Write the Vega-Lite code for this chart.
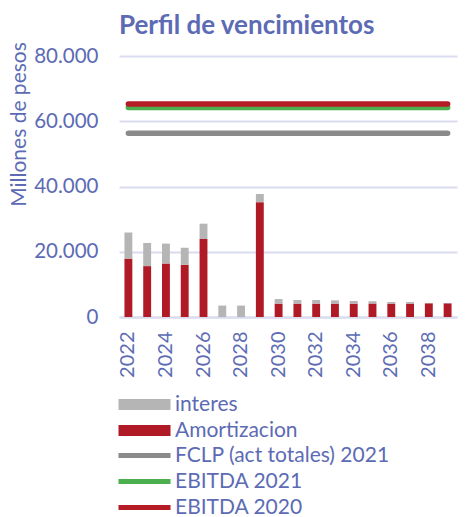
{
  "$schema": "https://vega.github.io/schema/vega-lite/v6.json",
  "autosize": "none",
  "padding": {"left": 119, "top": 56, "right": 18, "bottom": 200},
  "width": 338,
  "height": 261,
  "background": "white",
  "config": {
    "view": {"stroke": null},
    "font": "Lato",
    "axis": {"labelColor": "#5C6BB4", "titleColor": "#5C6BB4", "labelFont": "Lato", "titleFont": "Lato"},
    "legend": {"labelColor": "#5C6BB4", "labelFont": "Lato"}
  },
  "title": {
    "text": "Perfil de vencimientos",
    "anchor": "start",
    "frame": "group",
    "fontSize": 26,
    "fontWeight": "bold",
    "color": "#5C6BB4",
    "font": "Lato",
    "offset": 3
  },
  "datasets": {
    "bars": [
      {"year": 2022, "serie": "Amortizacion", "value": 17900}, {"year": 2022, "serie": "interes", "value": 8000},
      {"year": 2023, "serie": "Amortizacion", "value": 15600}, {"year": 2023, "serie": "interes", "value": 7100},
      {"year": 2024, "serie": "Amortizacion", "value": 16400}, {"year": 2024, "serie": "interes", "value": 6100},
      {"year": 2025, "serie": "Amortizacion", "value": 16000}, {"year": 2025, "serie": "interes", "value": 5200},
      {"year": 2026, "serie": "Amortizacion", "value": 23900}, {"year": 2026, "serie": "interes", "value": 4700},
      {"year": 2027, "serie": "Amortizacion", "value": 0}, {"year": 2027, "serie": "interes", "value": 3500},
      {"year": 2028, "serie": "Amortizacion", "value": 0}, {"year": 2028, "serie": "interes", "value": 3500},
      {"year": 2029, "serie": "Amortizacion", "value": 35200}, {"year": 2029, "serie": "interes", "value": 2500},
      {"year": 2030, "serie": "Amortizacion", "value": 4100}, {"year": 2030, "serie": "interes", "value": 1400},
      {"year": 2031, "serie": "Amortizacion", "value": 4100}, {"year": 2031, "serie": "interes", "value": 1100},
      {"year": 2032, "serie": "Amortizacion", "value": 4100}, {"year": 2032, "serie": "interes", "value": 1100},
      {"year": 2033, "serie": "Amortizacion", "value": 4100}, {"year": 2033, "serie": "interes", "value": 1000},
      {"year": 2034, "serie": "Amortizacion", "value": 4100}, {"year": 2034, "serie": "interes", "value": 800},
      {"year": 2035, "serie": "Amortizacion", "value": 4100}, {"year": 2035, "serie": "interes", "value": 700},
      {"year": 2036, "serie": "Amortizacion", "value": 4100}, {"year": 2036, "serie": "interes", "value": 500},
      {"year": 2037, "serie": "Amortizacion", "value": 4100}, {"year": 2037, "serie": "interes", "value": 500},
      {"year": 2038, "serie": "Amortizacion", "value": 4200}, {"year": 2038, "serie": "interes", "value": 100},
      {"year": 2039, "serie": "Amortizacion", "value": 4200}, {"year": 2039, "serie": "interes", "value": 100}
    ],
    "lines": [
      {"year": 2022, "serie": "FCLP (act totales) 2021", "value": 56300}, {"year": 2039, "serie": "FCLP (act totales) 2021", "value": 56300},
      {"year": 2022, "serie": "EBITDA 2021", "value": 64200}, {"year": 2039, "serie": "EBITDA 2021", "value": 64200},
      {"year": 2022, "serie": "EBITDA 2020", "value": 65300}, {"year": 2039, "serie": "EBITDA 2020", "value": 65300}
    ]
  },
  "encoding": {
    "x": {
      "field": "year",
      "type": "ordinal",
      "scale": {
        "domain": [2022, 2023, 2024, 2025, 2026, 2027, 2028, 2029, 2030, 2031, 2032, 2033, 2034, 2035, 2036, 2037, 2038, 2039],
        "paddingInner": 0.58,
        "paddingOuter": 0.29
      },
      "axis": {
        "title": null,
        "values": [2022, 2024, 2026, 2028, 2030, 2032, 2034, 2036, 2038],
        "labelAngle": -90,
        "labelFontSize": 20,
        "labelPadding": 14,
        "ticks": false,
        "tickSize": 0,
        "domainColor": "#D9DCEE",
        "domainWidth": 2,
        "grid": false
      }
    },
    "y": {
      "field": "value",
      "type": "quantitative",
      "scale": {"domain": [0, 80000], "nice": false},
      "axis": {
        "title": "Millones de pesos",
        "titleFontSize": 21,
        "titleFontWeight": "normal",
        "titleY": 68,
        "titlePadding": 4,
        "values": [0, 20000, 40000, 60000, 80000],
        "labelExpr": "replace(format(datum.value, ',d'), ',', '.')",
        "labelFontSize": 20.5,
        "labelPadding": 21,
        "ticks": false,
        "tickSize": 0,
        "domain": false,
        "grid": true,
        "gridColor": "#D9DCEE",
        "gridWidth": 2
      }
    }
  },
  "layer": [
    {
      "data": {"name": "bars"},
      "mark": {"type": "bar"},
      "encoding": {
        "y": {"field": "value", "type": "quantitative", "stack": "zero"},
        "fill": {
          "field": "serie",
          "type": "nominal",
          "scale": {"domain": ["interes", "Amortizacion"], "range": ["#B5B5B5", "#B01A26"]},
          "legend": {
            "title": null,
            "orient": "none",
            "legendX": -5,
            "legendY": 338,
            "symbolType": "M-1,-0.9H7.67V0.9H-1Z",
            "symbolSize": 144,
            "symbolStrokeWidth": 0,
            "labelFontSize": 21,
            "labelOffset": 40,
            "labelLimit": 400,
            "rowPadding": 4
          }
        },
        "order": {"field": "serie", "sort": "ascending"}
      }
    },
    {
      "data": {"name": "lines"},
      "mark": {"type": "line", "strokeWidth": 5.5, "strokeCap": "round"},
      "encoding": {
        "stroke": {
          "field": "serie",
          "type": "nominal",
          "scale": {"domain": ["FCLP (act totales) 2021", "EBITDA 2021", "EBITDA 2020"], "range": ["#8A8A8A", "#4BAE4F", "#B41B24"]},
          "legend": {
            "title": null,
            "orient": "none",
            "legendX": -5,
            "legendY": 389,
            "symbolType": "M-1,0H7.67",
            "symbolSize": 144,
            "symbolStrokeWidth": 5,
            "labelFontSize": 21,
            "labelOffset": 40,
            "labelLimit": 400,
            "rowPadding": 4
          }
        }
      }
    }
  ]
}
